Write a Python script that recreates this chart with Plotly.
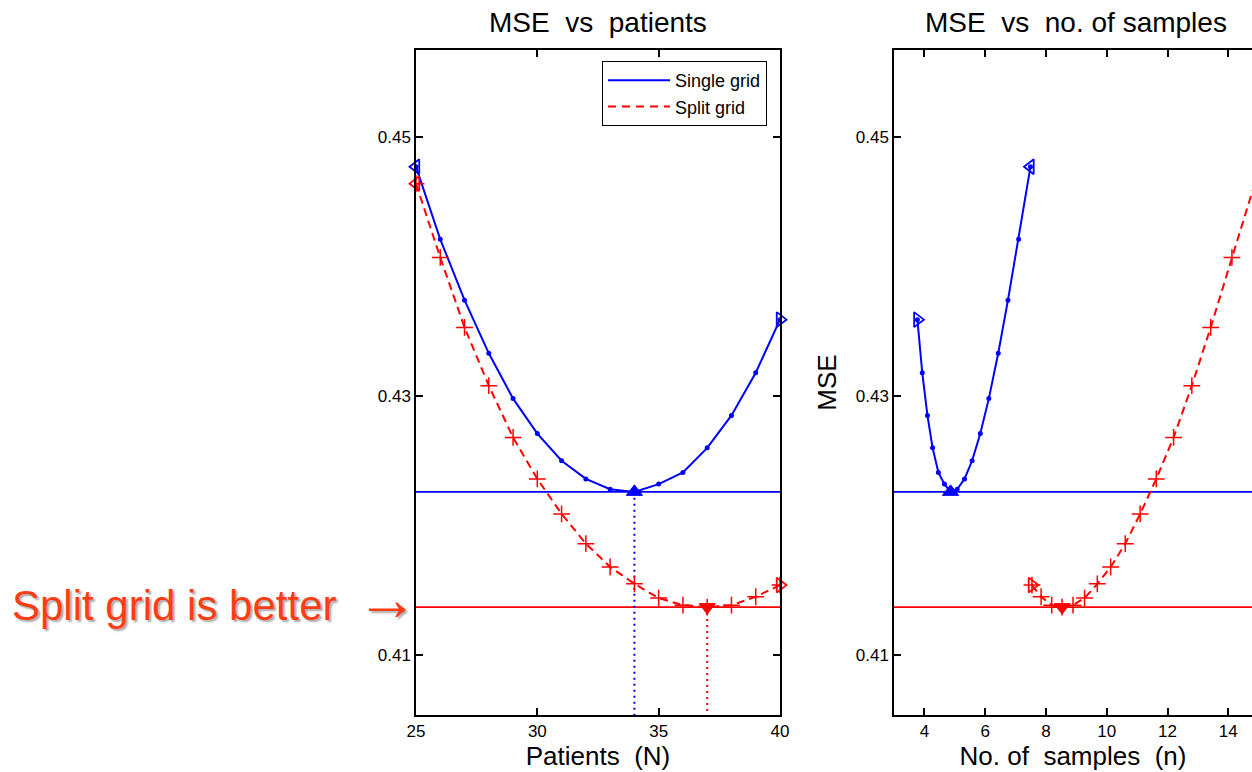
import plotly.graph_objects as go

# ---------------- data ----------------
patients = [25, 26, 27, 28, 29, 30, 31, 32, 33, 34, 35, 36, 37, 38, 39, 40]
mse_single = [0.4477, 0.4421, 0.4374, 0.4333, 0.4298, 0.4271, 0.4250, 0.4236,
              0.4228, 0.4226, 0.4232, 0.4241, 0.4260, 0.4285, 0.4318, 0.4359]
mse_split = [0.4464, 0.4407, 0.4353, 0.4308, 0.4268, 0.4236, 0.4209, 0.4186,
             0.4168, 0.4155, 0.4144, 0.41385, 0.4137, 0.41385, 0.4145, 0.4154]
samples_single = [7.49, 7.10, 6.75, 6.43, 6.12, 5.84, 5.57, 5.32,
                  5.08, 4.86, 4.66, 4.46, 4.27, 4.10, 3.93, 3.77]
samples_split = [14.87, 14.12, 13.42, 12.80, 12.20, 11.63, 11.10, 10.61,
                 10.13, 9.69, 9.27, 8.89, 8.53, 8.19, 7.84, 7.54]

series_names = ["Single grid", "Split grid"]
titles = ["MSE\u00a0 vs\u00a0 patients", "MSE\u00a0 vs\u00a0 no. of samples"]
x_titles = ["Patients\u00a0 (N)", "No. of\u00a0 samples\u00a0 (n)"]
y_title = "MSE"
y_ticks = [0.41, 0.43, 0.45]
y_ticktext = ["0.41", "0.43", "0.45"]
x1_ticks = [25, 30, 35, 40]
x2_ticks = [4, 6, 8, 10, 12, 14]
note_text = "Split grid is better"

# ---------------- layout constants ----------------
W, H = 1252, 772
MT, MB = 50, 57
PH = H - MT - MB
BLUE = "#0000ff"
RED = "#ff0000"
NOTE = "#ff3d14"
FONT = "Arial, 'Liberation Sans', sans-serif"
Y_RANGE = [0.40537, 0.45672]
X1_RANGE = [25, 40]
X2_RANGE = [3, 14.78]

fig = go.Figure()


def argmin(vals):
    return min(range(len(vals)), key=lambda i: vals[i])


def add_series(x, y, color, dash, msym, msize, xa, ya, min_sym, vline):
    fig.add_trace(go.Scatter(
        x=x, y=y, mode="lines+markers", xaxis=xa, yaxis=ya, showlegend=False,
        line=dict(color=color, width=2, dash=dash),
        marker=dict(symbol=msym, size=msize, color=color,
                    line=dict(color=color, width=1.5)),
        hoverinfo="skip"))
    # start / end markers
    fig.add_trace(go.Scatter(
        x=[x[0]], y=[y[0]], mode="markers", xaxis=xa, yaxis=ya, showlegend=False,
        cliponaxis=False,
        marker=dict(symbol="triangle-left-open", size=13, color=color,
                    line=dict(color=color, width=1.8))))
    fig.add_trace(go.Scatter(
        x=[x[-1]], y=[y[-1]], mode="markers", xaxis=xa, yaxis=ya, showlegend=False,
        cliponaxis=False,
        marker=dict(symbol="triangle-right-open", size=13, color=color,
                    line=dict(color=color, width=1.8))))
    i = argmin(y)
    if vline:
        fig.add_trace(go.Scatter(
            x=[x[i], x[i]], y=[y[i], Y_RANGE[0]], mode="lines", xaxis=xa, yaxis=ya,
            showlegend=False, line=dict(color=color, width=2, dash="2px,4px")))
    fig.add_trace(go.Scatter(
        x=[x[i]], y=[y[i]], mode="markers", xaxis=xa, yaxis=ya, showlegend=False,
        marker=dict(symbol=min_sym, size=14, color=color,
                    line=dict(color=color, width=1))))
    # horizontal level line at the minimum
    fig.add_shape(type="line", xref=f"{xa} domain", yref=ya, x0=0, x1=1,
                  y0=y[i], y1=y[i], line=dict(color=color, width=1.6), layer="below")


add_series(patients, mse_single, BLUE, "solid", "circle", 3.5, "x", "y", "triangle-up", True)
add_series(patients, mse_split, RED, "8px,5px", "cross-thin", 12, "x", "y", "triangle-down", True)
add_series(samples_single, mse_single, BLUE, "solid", "circle", 3.5, "x2", "y2", "triangle-up", False)
add_series(samples_split, mse_split, RED, "8px,5px", "cross-thin", 12, "x2", "y2", "triangle-down", False)

# legend entries (lines only)
fig.add_trace(go.Scatter(x=[None], y=[None], mode="lines", name=series_names[0],
                         line=dict(color=BLUE, width=2)))
fig.add_trace(go.Scatter(x=[None], y=[None], mode="lines", name=series_names[1],
                         line=dict(color=RED, width=2, dash="8px,6px")))

axis_common = dict(showgrid=False, zeroline=False, showline=True, linecolor="black",
                   linewidth=1.5, ticks="inside", ticklen=7, tickwidth=1.5,
                   tickcolor="black", tickfont=dict(family=FONT, size=17, color="black"))

fig.update_layout(
    width=W, height=H,
    margin=dict(l=0, r=0, t=MT, b=MB, autoexpand=False),
    paper_bgcolor="white", plot_bgcolor="white",
    font=dict(family=FONT, color="black"),
    xaxis=dict(domain=[416 / W, 780 / W], range=X1_RANGE, tickvals=x1_ticks,
               mirror="ticks", anchor="y",
               title=dict(text=x_titles[0], font=dict(size=26), standoff=4),
               **axis_common),
    yaxis=dict(domain=[0, 1], range=Y_RANGE, tickvals=y_ticks, ticktext=y_ticktext,
               mirror="ticks", anchor="x", **axis_common),
    xaxis2=dict(domain=[894 / W, 1.0], range=X2_RANGE, tickvals=x2_ticks,
                mirror="ticks", anchor="y2",
                title=dict(text=x_titles[1], font=dict(size=26), standoff=4),
                **axis_common),
    yaxis2=dict(domain=[0, 1], range=Y_RANGE, tickvals=y_ticks, ticktext=y_ticktext,
                anchor="x2", title=dict(text=y_title, font=dict(size=26), standoff=12),
                **axis_common),
    legend=dict(x=602 / W, y=1 - 11 / PH, xanchor="left", yanchor="top",
                bgcolor="white", bordercolor="black", borderwidth=1,
                font=dict(family=FONT, size=18, color="black"),
                tracegroupgap=0, itemwidth=62),
    showlegend=True,
)

# subplot titles
fig.add_annotation(text=titles[0], xref="paper", yref="paper", x=598 / W,
                   y=1 + 28 / PH, xanchor="center", yanchor="middle", showarrow=False,
                   font=dict(family=FONT, size=28, color="black"))
fig.add_annotation(text=titles[1], xref="paper", yref="paper", x=1076 / W,
                   y=1 + 28 / PH, xanchor="center", yanchor="middle", showarrow=False,
                   font=dict(family=FONT, size=28, color="black"))

# side note
fig.add_annotation(text=note_text, xref="paper", yref="paper", x=10 / W,
                   y=1 - (605 - MT) / PH, xanchor="left", yanchor="middle",
                   showarrow=False,
                   font=dict(family=FONT, size=42, color=NOTE,
                             shadow="2px 2px 2px #a8a8a8"))
fig.add_annotation(text="\u2192", xref="paper", yref="paper", x=387 / W,
                   y=1 - (598 - MT) / PH, xanchor="center", yanchor="middle",
                   showarrow=False,
                   font=dict(family=FONT, size=62, color=NOTE,
                             shadow="2px 2px 2px #a8a8a8"))

fig.write_html("out.html", config={"displayModeBar": False},
               post_script="document.body.style.margin='0';document.body.style.overflow='hidden';")
